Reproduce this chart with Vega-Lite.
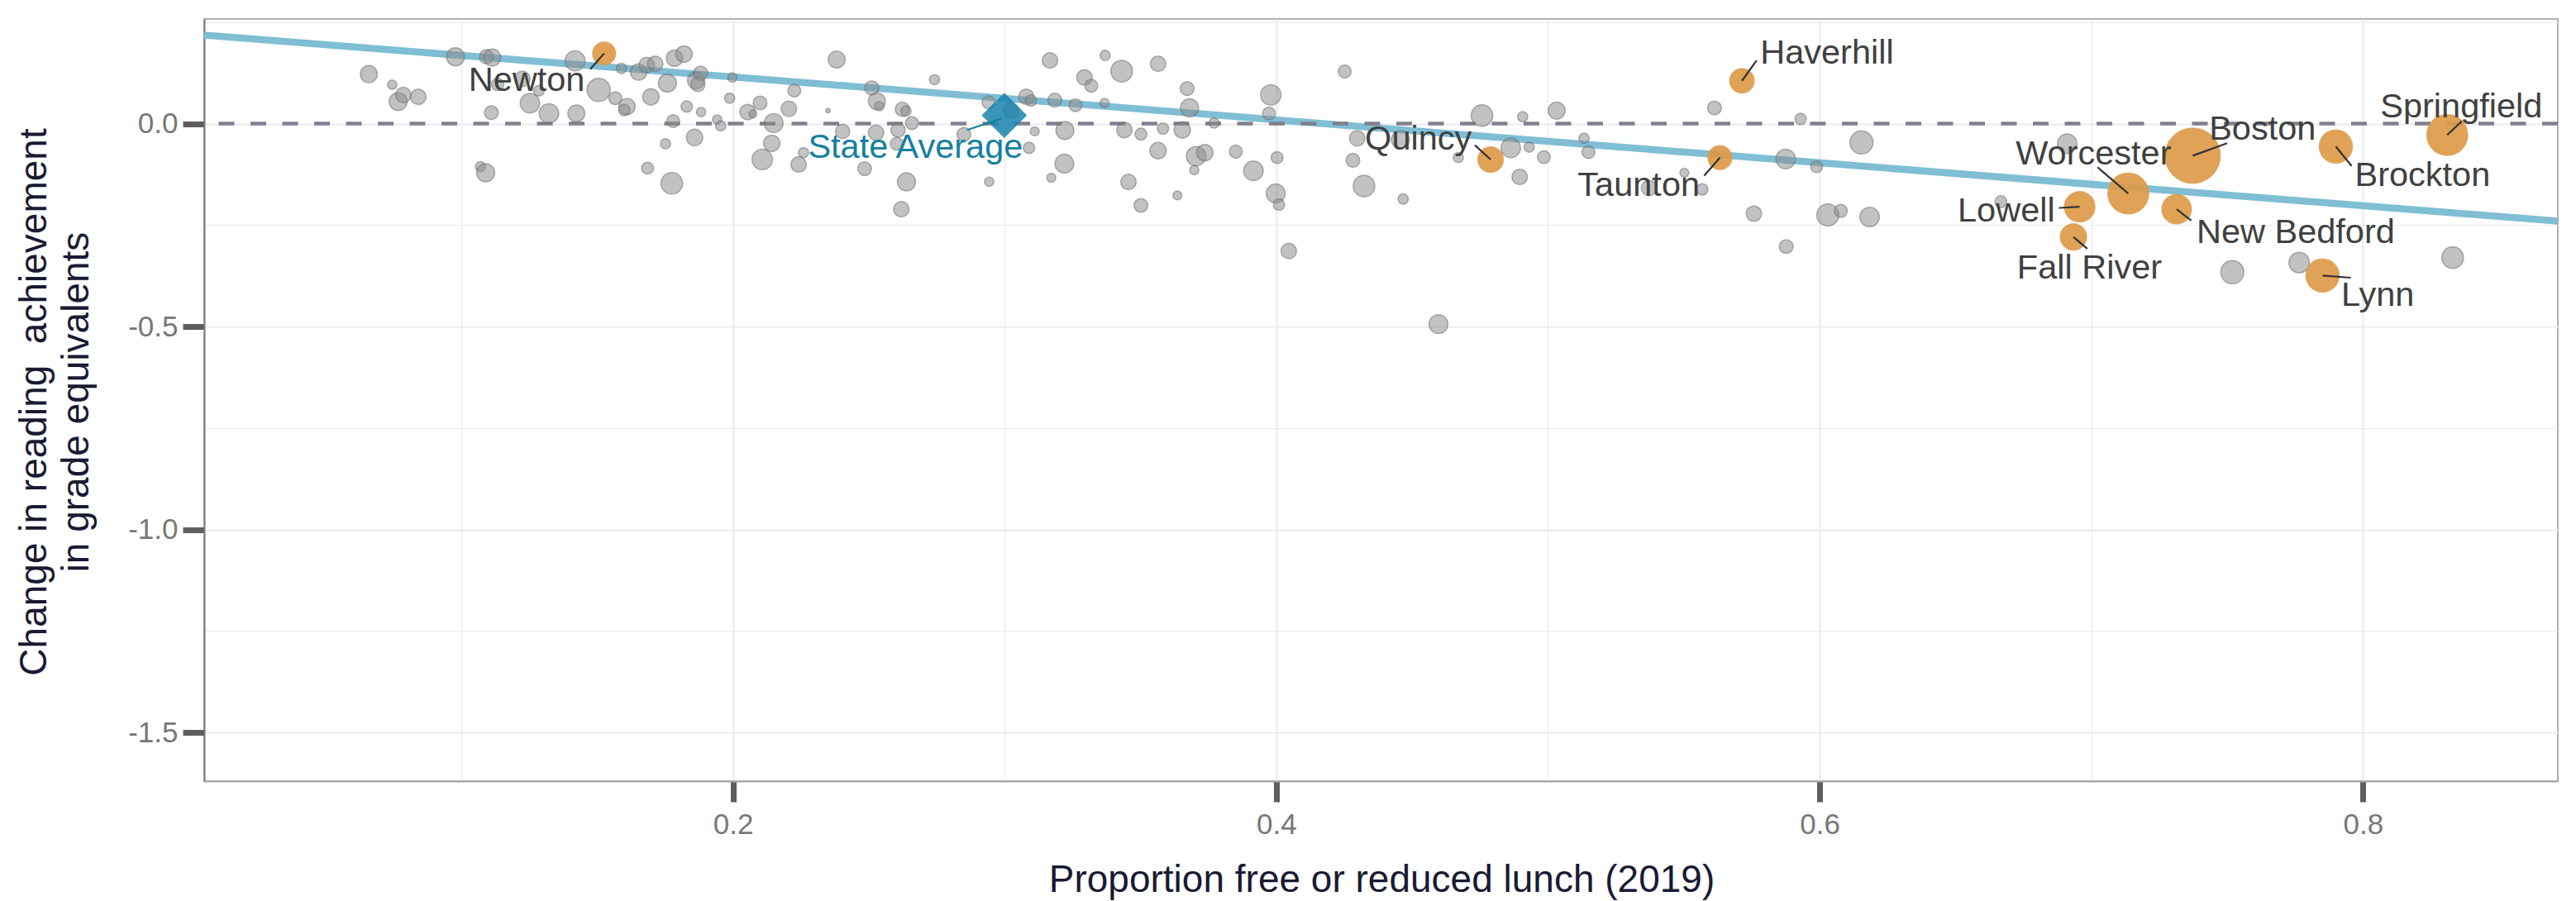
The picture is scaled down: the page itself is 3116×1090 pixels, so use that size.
{
  "$schema": "https://vega.github.io/schema/vega-lite/v6.json",
  "width": 2847,
  "height": 922,
  "autosize": {"type": "none"},
  "padding": {"left": 247, "top": 23, "right": 22, "bottom": 145},
  "background": "white",
  "config": {
    "view": {"stroke": "#b0b0b0", "strokeWidth": 2},
    "text": {"font": "Liberation Sans"}
  },
  "datasets": {
    "gray": [
      {"x":0.066,"y":0.122,"n":4.7},{"x":0.0746,"y":0.096,"n":1.4},{"x":0.0768,"y":0.0545,"n":5.3},{"x":0.0787,"y":0.0708,"n":3.9},
      {"x":0.0842,"y":0.0659,"n":3.9},{"x":0.0979,"y":0.1647,"n":5.3},{"x":0.1093,"y":0.1647,"n":3.3},{"x":0.1114,"y":0.1627,"n":4.7},
      {"x":0.1134,"y":0.0965,"n":2.5},{"x":0.1225,"y":0.1102,"n":3.9},{"x":0.1253,"y":0.0504,"n":6.2},{"x":0.1111,"y":0.0271,"n":3.1},
      {"x":0.1286,"y":0.081,"n":1.9},{"x":0.1071,"y":-0.1061,"n":1.7},{"x":0.109,"y":-0.121,"n":5.3},{"x":0.1419,"y":0.1545,"n":6.5},
      {"x":0.1323,"y":0.0251,"n":6.2},{"x":0.1424,"y":0.0251,"n":4.7},{"x":0.1506,"y":0.083,"n":8.7},{"x":0.1567,"y":0.0627,"n":2.7},
      {"x":0.161,"y":0.0422,"n":4.4},{"x":0.16,"y":0.0333,"n":2.1},{"x":0.159,"y":0.136,"n":1.7},{"x":0.1653,"y":0.1271,"n":4.4},
      {"x":0.1683,"y":0.1443,"n":3.9},{"x":0.1714,"y":0.1476,"n":3.9},{"x":0.1698,"y":0.0659,"n":4.4},{"x":0.1759,"y":0.1,"n":5.3},
      {"x":0.1785,"y":0.1612,"n":4.4},{"x":0.182,"y":0.1714,"n":4.4},{"x":0.183,"y":0.0422,"n":2.1},{"x":0.1883,"y":0.0286,"n":1.4},
      {"x":0.1864,"y":0.1067,"n":4.7},{"x":0.1881,"y":0.1239,"n":3.3},{"x":0.1871,"y":0.0965,"n":3.3},{"x":0.178,"y":0.0061,"n":2.7},
      {"x":0.1942,"y":0.0102,"n":1.4},{"x":0.1955,"y":-0.0055,"n":1.7},{"x":0.1859,"y":-0.0341,"n":4.4},{"x":0.1752,"y":-0.0496,"n":1.7},
      {"x":0.1686,"y":-0.1096,"n":2.3},{"x":0.1775,"y":-0.1469,"n":7.6},{"x":0.1998,"y":0.1137,"n":1.4},{"x":0.1988,"y":0.0627,"n":1.7},
      {"x":0.2054,"y":0.0286,"n":3.9},{"x":0.21,"y":0.051,"n":3.1},{"x":0.2074,"y":0.0239,"n":1.0},{"x":0.215,"y":0.0014,"n":5.8},
      {"x":0.2143,"y":-0.0484,"n":4.4},{"x":0.2108,"y":-0.0884,"n":6.8},{"x":0.2206,"y":0.0367,"n":3.9},{"x":0.2226,"y":0.0816,"n":2.7},
      {"x":0.2382,"y":0.1578,"n":4.7},{"x":0.235,"y":0.032,"n":0.3},{"x":0.2404,"y":-0.019,"n":3.3},{"x":0.2242,"y":-0.1006,"n":3.9},
      {"x":0.226,"y":-0.0714,"n":1.7},{"x":0.2485,"y":-0.1108,"n":3.1},{"x":0.2511,"y":0.0878,"n":3.3},{"x":0.253,"y":0.0551,"n":4.7},
      {"x":0.2539,"y":0.0429,"n":1.4},{"x":0.2527,"y":-0.0224,"n":3.9},{"x":0.2624,"y":0.0353,"n":3.3},{"x":0.2637,"y":0.0306,"n":1.7},
      {"x":0.2659,"y":0.0014,"n":2.7},{"x":0.2608,"y":-0.0157,"n":3.3},{"x":0.2603,"y":-0.0496,"n":2.7},{"x":0.2639,"y":-0.1435,"n":5.3},
      {"x":0.262,"y":-0.2108,"n":3.9},{"x":0.2742,"y":0.1082,"n":1.7},{"x":0.285,"y":-0.0265,"n":3.1},{"x":0.2943,"y":-0.1429,"n":1.4},
      {"x":0.2941,"y":0.0524,"n":2.7},{"x":0.3024,"y":0.032,"n":3.9},{"x":0.308,"y":0.0659,"n":3.9},{"x":0.3097,"y":0.0571,"n":2.1},
      {"x":0.3111,"y":-0.019,"n":1.3},{"x":0.309,"y":-0.0598,"n":2.1},{"x":0.3167,"y":0.1557,"n":3.9},{"x":0.3185,"y":0.0578,"n":3.1},
      {"x":0.3222,"y":-0.0169,"n":5.3},{"x":0.322,"y":-0.0986,"n":5.8},{"x":0.3172,"y":-0.1333,"n":1.3},{"x":0.3261,"y":0.0455,"n":2.7},
      {"x":0.3294,"y":0.1137,"n":3.9},{"x":0.3319,"y":0.0933,"n":2.7},{"x":0.337,"y":0.168,"n":1.7},{"x":0.3431,"y":0.1292,"n":7.6},
      {"x":0.3368,"y":0.051,"n":1.4},{"x":0.3441,"y":-0.0157,"n":3.9},{"x":0.3502,"y":-0.0259,"n":2.3},{"x":0.3565,"y":0.1476,"n":3.9},
      {"x":0.3583,"y":-0.0122,"n":2.1},{"x":0.3565,"y":-0.0667,"n":4.4},{"x":0.3456,"y":-0.1435,"n":3.9},{"x":0.3502,"y":-0.2014,"n":3.1},
      {"x":0.3636,"y":-0.1769,"n":1.3},{"x":0.3672,"y":0.0863,"n":3.1},{"x":0.3681,"y":0.0388,"n":5.3},{"x":0.3654,"y":-0.0157,"n":4.4},
      {"x":0.3705,"y":-0.0802,"n":6.2},{"x":0.3737,"y":-0.0714,"n":4.4},{"x":0.3698,"y":-0.1143,"n":1.4},{"x":0.3771,"y":0.0014,"n":1.7},
      {"x":0.3851,"y":-0.0688,"n":2.7},{"x":0.3916,"y":-0.1163,"n":6.2},{"x":0.398,"y":0.0708,"n":6.8},{"x":0.3973,"y":0.0251,"n":2.7},
      {"x":0.4003,"y":-0.0837,"n":2.3},{"x":0.3998,"y":-0.172,"n":5.8},{"x":0.401,"y":-0.1994,"n":2.1},{"x":0.4046,"y":-0.3137,"n":3.9},
      {"x":0.4252,"y":0.1286,"n":2.7},{"x":0.4298,"y":-0.0361,"n":3.9},{"x":0.4282,"y":-0.0904,"n":3.1},{"x":0.4323,"y":-0.1537,"n":7.6},
      {"x":0.4467,"y":-0.1857,"n":1.7},{"x":0.4457,"y":-0.0394,"n":5.3},{"x":0.4597,"y":-0.4939,"n":5.8},{"x":0.4757,"y":0.0198,"n":7.6},
      {"x":0.4907,"y":0.0169,"n":1.7},{"x":0.4863,"y":-0.0598,"n":6.2},{"x":0.4931,"y":-0.0578,"n":1.7},{"x":0.467,"y":-0.0837,"n":1.7},
      {"x":0.4896,"y":-0.1312,"n":3.9},{"x":0.4985,"y":-0.0822,"n":2.7},{"x":0.5032,"y":0.032,"n":4.7},{"x":0.5133,"y":-0.0361,"n":1.7},
      {"x":0.5149,"y":-0.07,"n":2.7},{"x":0.5613,"y":0.0388,"n":3.1},{"x":0.5502,"y":-0.121,"n":1.3},{"x":0.5372,"y":-0.1586,"n":3.9},
      {"x":0.5568,"y":-0.1618,"n":2.1},{"x":0.593,"y":0.0116,"n":2.1},{"x":0.5875,"y":-0.0871,"n":6.2},{"x":0.5989,"y":-0.1061,"n":2.3},
      {"x":0.6154,"y":-0.0463,"n":8.7},{"x":0.5758,"y":-0.2218,"n":3.9},{"x":0.5877,"y":-0.3027,"n":3.1},{"x":0.603,"y":-0.2251,"n":7.9},
      {"x":0.6078,"y":-0.2149,"n":2.7},{"x":0.6184,"y":-0.23,"n":6.2},{"x":0.6911,"y":-0.0496,"n":6.2},{"x":0.6667,"y":-0.1924,"n":2.3},
      {"x":0.7519,"y":-0.3659,"n":8.7},{"x":0.7765,"y":-0.3422,"n":6.8},{"x":0.833,"y":-0.33,"n":7.6}
    ],
    "cities": [
      {"name":"Newton","x":0.1526,"y":0.1729,"n":8.7,"lx":0.1241,"ly":0.0796,"sx":0.1475,"sy":0.1341},
      {"name":"Quincy","x":0.4789,"y":-0.0884,"n":10.8,"lx":0.4523,"ly":-0.0633,"sx":0.4731,"sy":-0.0531},
      {"name":"Haverhill","x":0.5714,"y":0.1055,"n":9.9,"lx":0.6027,"ly":0.1476,"sx":0.5768,"sy":0.1557},
      {"name":"Taunton","x":0.5633,"y":-0.0837,"n":9.5,"lx":0.5334,"ly":-0.179,"sx":0.5575,"sy":-0.128},
      {"name":"Worcester","x":0.7136,"y":-0.172,"n":27.5,"lx":0.7008,"ly":-0.1006,"sx":0.7023,"sy":-0.1076},
      {"name":"Lowell","x":0.6957,"y":-0.2047,"n":15.4,"lx":0.6687,"ly":-0.2402,"sx":0.6881,"sy":-0.2076},
      {"name":"Fall River","x":0.6934,"y":-0.279,"n":11.5,"lx":0.6993,"ly":-0.3816,"sx":0.6985,"sy":-0.3082},
      {"name":"New Bedford","x":0.7314,"y":-0.2108,"n":14.4,"lx":0.7752,"ly":-0.2945,"sx":0.7368,"sy":-0.2388},
      {"name":"Boston","x":0.7373,"y":-0.079,"n":50,"lx":0.763,"ly":-0.0394,"sx":0.75,"sy":-0.0484},
      {"name":"Brockton","x":0.79,"y":-0.0565,"n":18.2,"lx":0.8219,"ly":-0.1531,"sx":0.7958,"sy":-0.1041},
      {"name":"Springfield","x":0.831,"y":-0.028,"n":27.5,"lx":0.8362,"ly":0.0149,"sx":0.8364,"sy":0.0061},
      {"name":"Lynn","x":0.7851,"y":-0.3741,"n":18.2,"lx":0.8054,"ly":-0.4496,"sx":0.7955,"sy":-0.3796}
    ],
    "state": [
      {"name":"State Average","x":0.2999,"y":0.0204,"lx":0.2672,"ly":-0.0851,"sx":0.2862,"sy":-0.0157,"ex":0.2989,"ey":0.0129}
    ],
    "fit": [
      {"x":0.0054,"y":0.218},{"x":0.8717,"y":-0.2401}
    ]
  },
  "layer": [
    {
      "data": {"name": "fit"},
      "mark": {"type": "line", "color": "#7fbed5", "strokeWidth": 8.5, "clip": true},
      "encoding": {
        "x": {
          "field": "x", "type": "quantitative",
          "scale": {"domain": [0.0054, 0.8717], "nice": false, "zero": false},
          "axis": {
            "title": "Proportion free or reduced lunch (2019)",
            "values": [0.1, 0.2, 0.3, 0.4, 0.5, 0.6, 0.7, 0.8],
            "labelExpr": "abs(round(datum.value*10)) % 2 == 0 ? format(datum.value, '.1f') : ''",
            "labelFont": "Liberation Sans", "labelFontSize": 35, "labelColor": "#777777", "labelPadding": 10,
            "labelOverlap": false, "labelFlush": false, "labelBound": false,
            "tickSize": 25, "tickWidth": 7, "tickColor": "#5e5e5e",
            "tickOpacity": {"condition": {"test": "abs(round(datum.value*10)) % 2 == 1", "value": 0}, "value": 1},
            "grid": true, "gridColor": "#ebebeb",
            "gridWidth": {"condition": {"test": "abs(round(datum.value*10)) % 2 == 1", "value": 1.2}, "value": 2.2},
            "domain": true, "domainColor": "#a8a8a8", "domainWidth": 2,
            "titleFont": "Liberation Sans", "titleFontSize": 46, "titleFontWeight": "normal", "titleColor": "#1a1a33",
            "titleX": 1424, "titleY": 133, "titleBaseline": "alphabetic", "titleAlign": "center"
          }
        },
        "y": {
          "field": "y", "type": "quantitative",
          "scale": {"domain": [-1.6196, 0.2577], "nice": false, "zero": false},
          "axis": {
            "title": ["Change in reading \u00a0achievement", "in grade equivalents"],
            "values": [-1.5, -1.25, -1, -0.75, -0.5, -0.25, 0, 0.25],
            "labelExpr": "abs(round(datum.value*4)) % 2 == 0 ? (datum.value < 0 ? '-' : '') + format(abs(datum.value), '.1f') : ''",
            "labelFont": "Liberation Sans", "labelFontSize": 35, "labelColor": "#777777", "labelPadding": 6,
            "labelOverlap": false, "labelFlush": false, "labelBound": false,
            "tickSize": 26, "tickWidth": 7, "tickColor": "#5e5e5e",
            "tickOpacity": {"condition": {"test": "abs(round(datum.value*4)) % 2 == 1", "value": 0}, "value": 1},
            "grid": true, "gridColor": "#ebebeb",
            "gridWidth": {"condition": {"test": "abs(round(datum.value*4)) % 2 == 1", "value": 1.2}, "value": 2.2},
            "domain": true, "domainColor": "#7a7a7a", "domainWidth": 2,
            "titleFont": "Liberation Sans", "titleFontSize": 46, "titleFontWeight": "normal", "titleColor": "#1a1a33",
            "titleAngle": -90, "titleX": -192, "titleY": 463, "titleBaseline": "alphabetic", "titleAlign": "center",
            "titleLineHeight": 51
          }
        }
      }
    },
    {
      "data": {"values": [{"y": 0}]},
      "mark": {"type": "rule", "color": "#80808e", "strokeWidth": 4.5, "strokeDash": [19, 19.5]},
      "encoding": {"y": {"field": "y", "type": "quantitative"}}
    },
    {
      "data": {"name": "gray"},
      "mark": {"type": "circle", "fill": "#8a8a8a", "fillOpacity": 0.52, "stroke": "#6a6a6a", "strokeWidth": 1.5, "strokeOpacity": 0.5},
      "encoding": {
        "x": {"field": "x", "type": "quantitative"},
        "y": {"field": "y", "type": "quantitative"},
        "size": {"field": "n", "type": "quantitative", "scale": {"domain": [0, 50], "range": [0, 4500]}, "legend": null}
      }
    },
    {
      "data": {"name": "cities"},
      "mark": {"type": "circle", "fill": "#dc9a48", "fillOpacity": 0.92, "stroke": "#d99a4a", "strokeWidth": 1.2, "strokeOpacity": 0.6},
      "encoding": {
        "x": {"field": "x", "type": "quantitative"},
        "y": {"field": "y", "type": "quantitative"},
        "size": {"field": "n", "type": "quantitative", "legend": null}
      }
    },
    {
      "data": {"name": "state"},
      "mark": {"type": "point", "shape": "diamond", "filled": true, "fill": "#1883ad", "fillOpacity": 0.85, "strokeWidth": 0, "size": 3000},
      "encoding": {
        "x": {"field": "x", "type": "quantitative"},
        "y": {"field": "y", "type": "quantitative"}
      }
    },
    {
      "data": {"name": "cities"},
      "mark": {"type": "rule", "color": "#333333", "strokeWidth": 2.2},
      "encoding": {
        "x": {"field": "sx", "type": "quantitative"},
        "y": {"field": "sy", "type": "quantitative"},
        "x2": {"field": "x"},
        "y2": {"field": "y"}
      }
    },
    {
      "data": {"name": "cities"},
      "mark": {"type": "text", "font": "Liberation Sans", "fontSize": 41.5, "color": "#404040", "align": "center", "baseline": "alphabetic"},
      "encoding": {
        "x": {"field": "lx", "type": "quantitative"},
        "y": {"field": "ly", "type": "quantitative"},
        "text": {"field": "name"}
      }
    },
    {
      "data": {"name": "state"},
      "mark": {"type": "rule", "color": "#16809f", "strokeWidth": 2.2},
      "encoding": {
        "x": {"field": "sx", "type": "quantitative"},
        "y": {"field": "sy", "type": "quantitative"},
        "x2": {"field": "ex"},
        "y2": {"field": "ey"}
      }
    },
    {
      "data": {"name": "state"},
      "mark": {"type": "text", "font": "Liberation Sans", "fontSize": 41.5, "color": "#16809f", "align": "center", "baseline": "alphabetic"},
      "encoding": {
        "x": {"field": "lx", "type": "quantitative"},
        "y": {"field": "ly", "type": "quantitative"},
        "text": {"field": "name"}
      }
    }
  ]
}
